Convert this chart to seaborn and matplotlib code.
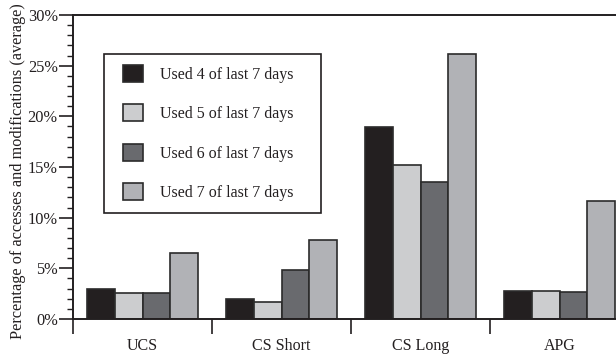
import matplotlib
matplotlib.use("Agg")
import matplotlib.pyplot as plt
import seaborn as sns
import pandas as pd
from matplotlib.patches import Patch, Rectangle
from matplotlib.ticker import MultipleLocator, FixedLocator, FuncFormatter

categories = ["UCS", "CS Short", "CS Long", "APG"]
series_names = ["Used 4 of last 7 days", "Used 5 of last 7 days",
                "Used 6 of last 7 days", "Used 7 of last 7 days"]
used4 = [3.0, 2.0, 18.95, 2.75]
used5 = [2.6, 1.65, 15.2, 2.8]
used6 = [2.6, 4.85, 13.5, 2.7]
used7 = [6.5, 7.8, 26.15, 11.65]
colors = ["#231f20", "#cccdcf", "#696a6e", "#b1b2b6"]

rows = []
for name, vals in zip(series_names, [used4, used5, used6, used7]):
    for c, v in zip(categories, vals):
        rows.append({"category": c, "series": name, "value": v})
df = pd.DataFrame(rows)

sns.set_theme(style="white")
plt.rcParams["font.family"] = ["Liberation Serif", "DejaVu Serif"]

W, H = 616, 356
fig = plt.figure(figsize=(W / 100, H / 100), dpi=100)
ax = fig.add_axes([73 / W, (H - 319) / H, (629 - 73) / W, (319 - 15) / H])

sns.barplot(data=df, x="category", y="value", hue="series", order=categories,
            hue_order=series_names, palette=colors, saturation=1, width=0.8,
            edgecolor="#2b2b2b", linewidth=1.2, legend=False, ax=ax)

ax.set_xlim(-0.5, 3.5)
ax.set_ylim(0, 30)
ax.set_xlabel("")
ax.set_ylabel("Percentage of accesses and modifications (average)",
              fontsize=11.7, color="#231f20")
ax.yaxis.set_label_coords((26 - 73) / 556, (319 - 171.5) / 304)

for s in ax.spines.values():
    s.set_color("#231f20")
    s.set_linewidth(1.4)

ax.yaxis.set_major_locator(MultipleLocator(5))
ax.yaxis.set_minor_locator(MultipleLocator(1))
ax.yaxis.set_major_formatter(FuncFormatter(lambda v, p: f"{int(v)}%"))
ax.tick_params(axis="y", which="major", direction="out", length=10, width=1.2,
               color="#231f20", labelsize=11.8, pad=1, left=True, labelcolor="#231f20")
ax.tick_params(axis="y", which="minor", direction="out", length=4, width=1.0,
               color="#231f20", left=True)

ax.set_xticks(range(len(categories)))
ax.set_xticklabels(categories)
ax.xaxis.set_minor_locator(FixedLocator([-0.5, 0.5, 1.5, 2.5, 3.5]))
ax.tick_params(axis="x", which="major", length=0, labelsize=11.5, pad=14,
               labelcolor="#231f20")
ax.tick_params(axis="x", which="minor", direction="out", length=11, width=1.2,
               color="#231f20", bottom=True)

# legend frame
fig.patches.append(Rectangle((104 / W, 1 - 213 / H), (321 - 104) / W, (213 - 54) / H,
                             transform=fig.transFigure, fill=False,
                             edgecolor="#231f20", linewidth=1.2, zorder=5))

handles = [Patch(facecolor=c, edgecolor="#2b2b2b", linewidth=1.2) for c in colors]
leg = fig.legend(handles, series_names, loc="upper left",
                 bbox_to_anchor=(123 / W, 1 - 65 / H), bbox_transform=fig.transFigure,
                 borderaxespad=0, borderpad=0, fontsize=11.5, frameon=False,
                 handlelength=1.25, handleheight=1.25, handletextpad=1.05,
                 labelspacing=1.35)
for t in leg.get_texts():
    t.set_color("#231f20")

fig.savefig("out.png", dpi=100)
